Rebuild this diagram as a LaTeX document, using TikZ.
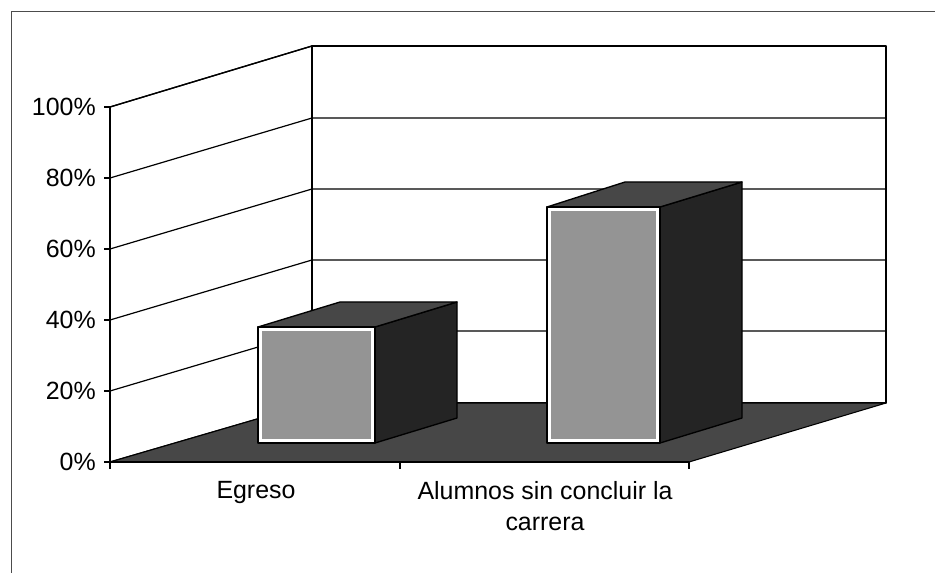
\documentclass[tikz,border=0pt]{standalone}
\usepackage{fontspec}
\setmainfont{Liberation Sans}
\definecolor{suelogris}{gray}{0.28}
\definecolor{frentegris}{gray}{0.58}
\definecolor{ladogris}{gray}{0.14}
\tikzset{
  pared/.style = {draw, fill = white, line width = 1pt},
  rejilla/.style = {line width = 0.9pt},
  suelo/.style = {draw, fill = suelogris, line width = 0.8pt},
  frente/.style = {draw, fill = white, line width = 1pt},
  tapa/.style = {draw, fill = suelogris, line width = 1pt},
  lado/.style = {draw, fill = ladogris, line width = 1pt},
  etiqueta/.style = {font = \fontsize{18.7}{23}\selectfont, inner sep = 0pt}
}
\begin{document}
\begin{tikzpicture}[x = 0.75pt, y = -0.75pt, line join = round]
\useasboundingbox (0,0) rectangle (935,573);

% Marco del grafico
\draw[black!70, line width = 0.6pt] (11,573) -- (11,11) -- (935,11);

% Paredes: izquierda y del fondo
\draw[pared] (110,462) -- (110,107) -- (312,46) -- (312,403) -- cycle;
\draw[pared] (312,403) rectangle (886,46);

% Lineas de la rejilla
\foreach \yf/\yb in {107/46, 178/118, 249/189, 320/260, 391/331}
  \draw[rejilla] (110,\yf) -- (312,\yb) -- (886,\yb);

% El suelo
\draw[suelo] (110,462) -- (312,403) -- (886,403) -- (689,462) -- cycle;

% Barra de Egreso
\draw[lado] (375,327) -- (457,302) -- (457,418) -- (375,443) -- cycle;
\draw[tapa] (258,327) -- (340,302) -- (457,302) -- (375,327) -- cycle;
\draw[frente] (258,327) rectangle (375,443);
\fill[frentegris] (262,331) rectangle (371,439);

% Barra de Alumnos sin concluir la carrera
\draw[lado] (660,207) -- (742,182) -- (742,418) -- (660,443) -- cycle;
\draw[tapa] (547,207) -- (625,182) -- (742,182) -- (660,207) -- cycle;
\draw[frente] (547,207) rectangle (660,443);
\fill[frentegris] (551,211) rectangle (656,439);

% Ejes y marcas
\draw[line width = 1pt] (110,462) -- (110,107);
\draw[line width = 1pt] (110,462) -- (689,462);
\foreach \yf in {107, 178, 249, 320, 391, 462}
  \draw[line width = 0.9pt] (104,\yf) -- (110,\yf);
\foreach \xf in {110, 400, 689}
  \draw[line width = 0.9pt] (\xf,462) -- (\xf,469);

% Etiquetas del eje vertical
\node[etiqueta, anchor = east] (p100) at (96,107) {100\%};
\node[etiqueta, anchor = east] (p80) at (96,178) {80\%};
\node[etiqueta, anchor = east] (p60) at (96,249) {60\%};
\node[etiqueta, anchor = east] (p40) at (96,320) {40\%};
\node[etiqueta, anchor = east] (p20) at (96,391) {20\%};
\node[etiqueta, anchor = east] (p0) at (96,462) {0\%};

% Etiquetas de las categorias
\node[etiqueta] (egreso) at (256,493) {Egreso};
\node[etiqueta, align = center, anchor = north] (alumnos) at (545,481) {Alumnos sin concluir la\\carrera};
\end{tikzpicture}
\end{document}
